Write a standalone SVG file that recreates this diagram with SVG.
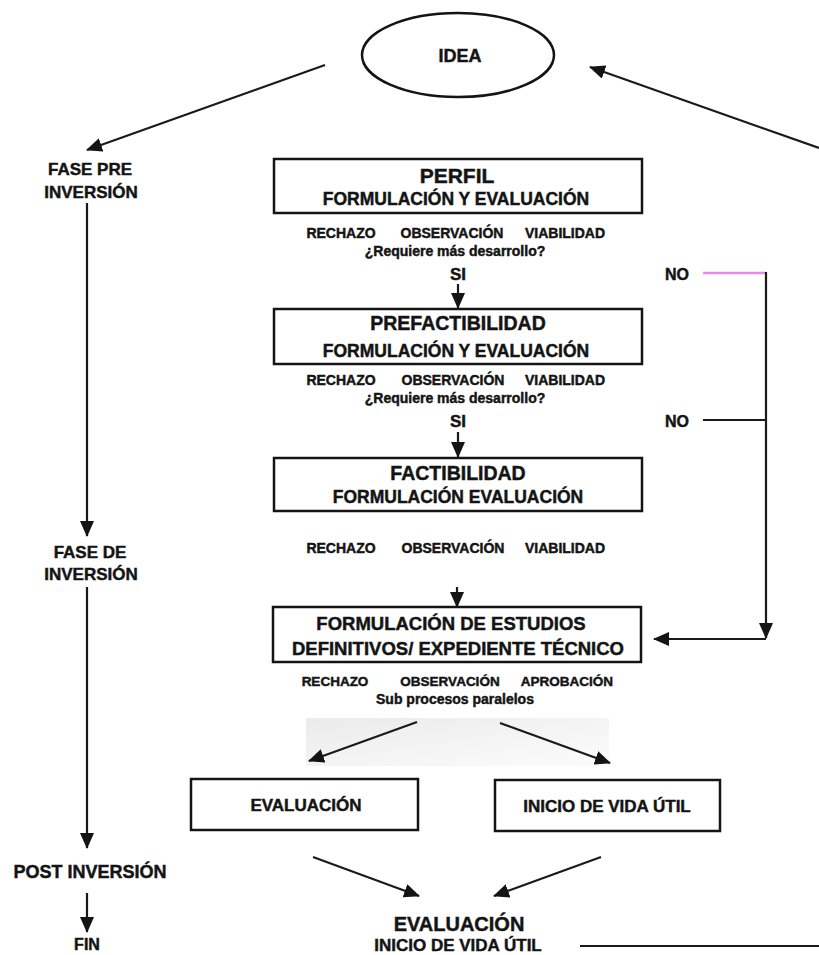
<svg xmlns="http://www.w3.org/2000/svg" width="819" height="955" viewBox="0 0 819 955">
<style>
.t{font-family:"Liberation Sans",Arial,sans-serif;font-weight:bold;fill:#141414;stroke:#141414;stroke-width:0.45;text-anchor:middle}
.box{fill:#fff;stroke:#141414;stroke-width:2.5}
.ln{stroke:#1a1a1a;stroke-width:2.2;fill:none}
</style>
<defs>
<marker id="ah" markerUnits="userSpaceOnUse" markerWidth="16" markerHeight="14" refX="15" refY="7" orient="auto">
<path d="M0,0 L16,7 L0,14 z" fill="#141414"/>
</marker>
<linearGradient id="gr" x1="0" y1="0" x2="1" y2="1">
<stop offset="0" stop-color="#e6e6e6"/>
<stop offset="1" stop-color="#fbfbfb"/>
</linearGradient>
</defs>
<rect width="819" height="955" fill="#fff"/>
<rect x="306" y="718" width="303" height="48" fill="url(#gr)" opacity="0.8"/>

<g id="connectors">
<line class="ln" x1="325" y1="65" x2="87" y2="150" marker-end="url(#ah)"/>
<line class="ln" x1="819" y1="148" x2="590" y2="67" marker-end="url(#ah)"/>
<line class="ln" x1="87" y1="203" x2="87" y2="536" marker-end="url(#ah)"/>
<line class="ln" x1="87" y1="587" x2="87" y2="848" marker-end="url(#ah)"/>
<line class="ln" x1="87" y1="893" x2="87" y2="932" marker-end="url(#ah)"/>
<line class="ln" x1="458" y1="284" x2="458" y2="308" marker-end="url(#ah)"/>
<line class="ln" x1="458" y1="432" x2="458" y2="457" marker-end="url(#ah)"/>
<line class="ln" x1="457" y1="587" x2="457" y2="607" marker-end="url(#ah)"/>
<line x1="703" y1="273" x2="766" y2="273" stroke="#e88ae8" stroke-width="2.5"/>
<line class="ln" x1="703" y1="420" x2="766" y2="420"/>
<line class="ln" x1="766" y1="272" x2="766" y2="638" marker-end="url(#ah)"/>
<line class="ln" x1="766" y1="639" x2="654" y2="639" marker-end="url(#ah)"/>
<line class="ln" x1="417" y1="722" x2="309" y2="761" marker-end="url(#ah)"/>
<line class="ln" x1="500" y1="723" x2="610" y2="763" marker-end="url(#ah)"/>
<line class="ln" x1="313" y1="857" x2="419" y2="896" marker-end="url(#ah)"/>
<line class="ln" x1="601" y1="857" x2="494" y2="896" marker-end="url(#ah)"/>
<line class="ln" x1="580" y1="946" x2="819" y2="946"/>
</g>

<g id="idea">
<ellipse cx="458" cy="55" rx="96" ry="42" fill="#fff" stroke="#141414" stroke-width="2.5"/>
<text class="t" x="460" y="62" font-size="18">IDEA</text>
</g>

<g id="fase-pre">
<text class="t" x="90" y="175" font-size="17">FASE PRE</text>
<text class="t" x="91" y="198" font-size="17">INVERSIÓN</text>
</g>

<g id="fase-de">
<text class="t" x="90" y="558" font-size="17">FASE DE</text>
<text class="t" x="91" y="580" font-size="17">INVERSIÓN</text>
</g>

<g id="post">
<text class="t" x="90" y="878" font-size="18">POST INVERSIÓN</text>
</g>

<g id="fin">
<text class="t" x="87" y="950" font-size="16">FIN</text>
</g>

<g id="perfil">
<rect class="box" x="274" y="159" width="368" height="54"/>
<text class="t" x="457" y="183" font-size="21">PERFIL</text>
<text class="t" x="456" y="205" font-size="17.5">FORMULACIÓN Y EVALUACIÓN</text>
</g>

<g id="perfil-result">
<text class="t" x="341" y="238" font-size="14">RECHAZO</text>
<text class="t" x="452" y="238" font-size="14">OBSERVACIÓN</text>
<text class="t" x="565" y="238" font-size="14">VIABILIDAD</text>
<text class="t" x="455" y="256" font-size="14">¿Requiere más desarrollo?</text>
<text class="t" x="458" y="280" font-size="17">SI</text>
</g>

<g id="no1">
<text class="t" x="677" y="280" font-size="16">NO</text>
</g>

<g id="prefactibilidad">
<rect class="box" x="274" y="309" width="368" height="55"/>
<text class="t" x="458" y="330" font-size="19.5">PREFACTIBILIDAD</text>
<text class="t" x="456" y="357" font-size="17.5">FORMULACIÓN Y EVALUACIÓN</text>
</g>

<g id="prefact-result">
<text class="t" x="341" y="385" font-size="14">RECHAZO</text>
<text class="t" x="453" y="385" font-size="14">OBSERVACIÓN</text>
<text class="t" x="565" y="385" font-size="14">VIABILIDAD</text>
<text class="t" x="455" y="403" font-size="14">¿Requiere más desarrollo?</text>
<text class="t" x="458" y="427" font-size="17">SI</text>
</g>

<g id="no2">
<text class="t" x="677" y="427" font-size="16">NO</text>
</g>

<g id="factibilidad">
<rect class="box" x="274" y="458" width="368" height="53"/>
<text class="t" x="458" y="480" font-size="19.5">FACTIBILIDAD</text>
<text class="t" x="458" y="503" font-size="17.5">FORMULACIÓN EVALUACIÓN</text>
</g>

<g id="fact-result">
<text class="t" x="341" y="553" font-size="14">RECHAZO</text>
<text class="t" x="453" y="553" font-size="14">OBSERVACIÓN</text>
<text class="t" x="565" y="553" font-size="14">VIABILIDAD</text>
</g>

<g id="estudios">
<rect class="box" x="273" y="607" width="368" height="55"/>
<text class="t" x="451" y="630" font-size="18.5">FORMULACIÓN DE ESTUDIOS</text>
<text class="t" x="458" y="655" font-size="18.5">DEFINITIVOS/ EXPEDIENTE TÉCNICO</text>
</g>

<g id="estudios-result">
<text class="t" x="335" y="686" font-size="13.5">RECHAZO</text>
<text class="t" x="450" y="686" font-size="13.5">OBSERVACIÓN</text>
<text class="t" x="567" y="686" font-size="13.5">APROBACIÓN</text>
<text class="t" x="455" y="704" font-size="14">Sub procesos paralelos</text>
</g>

<g id="evaluacion">
<rect class="box" x="191" y="779" width="227" height="51"/>
<text class="t" x="306" y="811" font-size="17">EVALUACIÓN</text>
</g>

<g id="inicio">
<rect class="box" x="495" y="780" width="225" height="51"/>
<text class="t" x="607" y="812" font-size="17">INICIO DE VIDA ÚTIL</text>
</g>

<g id="final">
<text class="t" x="459" y="931" font-size="20">EVALUACIÓN</text>
<text class="t" x="458" y="951" font-size="17">INICIO DE VIDA ÚTIL</text>
</g>
</svg>
